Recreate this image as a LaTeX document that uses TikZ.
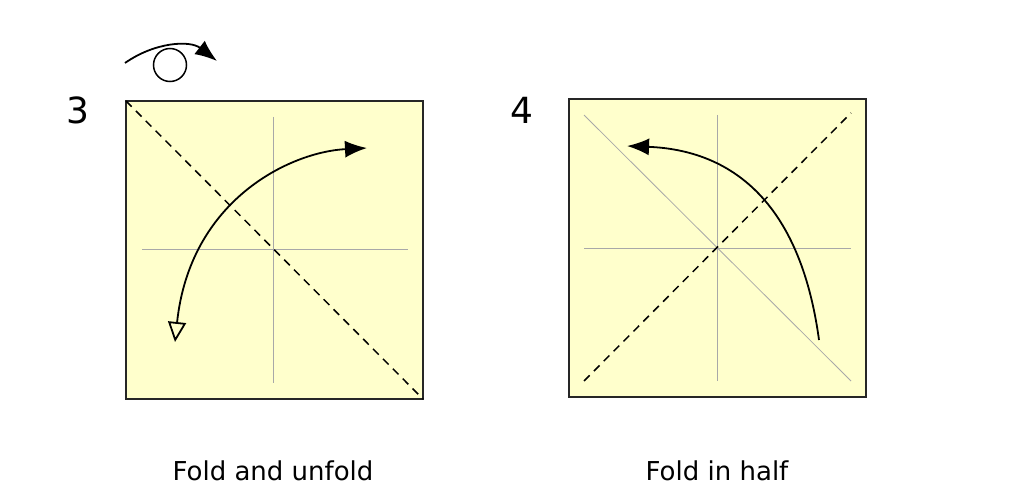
\documentclass[tikz,border=0pt]{standalone}
\usepackage{fontspec}
\setmainfont{DejaVu Sans}
\usetikzlibrary{arrows.meta}
\definecolor{paper}{HTML}{FFFFCC}
\definecolor{crease}{HTML}{A8A8A8}
\tikzset{
  sheet/.style={fill=paper,draw=black!85,line width=1.3pt},
  creaseline/.style={draw=crease,line width=0.8pt},
  valley/.style={dash pattern=on 8pt off 6pt,line width=1.5pt},
  foldarrow/.style={line width=1.8pt},
  lbl/.style={font=\fontsize{26}{28}\selectfont},
  num/.style={font=\fontsize{36}{38}\selectfont}
}
\begin{document}
\begin{tikzpicture}[x=1pt,y=-1pt]
\useasboundingbox (0,0) rectangle (1019,492);
% square 3
\draw[sheet] (126,101) coordinate (a1) rectangle (423,399) coordinate (a2);
\draw[creaseline] (273,117) -- (273,383);
\draw[creaseline] (142,249) -- (408,249);
\draw[valley] (a1) -- (a2);
\draw[foldarrow,{Triangle[open,length=20pt,width=18pt]}-{Latex[length=22pt,width=17pt]}]
  (175,342) .. controls (190,200) and (290,152) .. (367,148);
\node[num] (n3) at (78,110) {3};
% flip symbol
\node[draw,circle,minimum size=33pt,inner sep=0pt,line width=1.5pt] (c) at (170,65) {};
\draw[line width=1.8pt,-{Latex[length=22pt,width=17pt]}] (125,63) .. controls (155,42) and (190,40) .. (217,61);
% square 4
\draw[sheet] (569,99) rectangle (866,397);
\draw[creaseline] (717,115) -- (717,381);
\draw[creaseline] (584,248) -- (851,248);
\draw[creaseline] (584,115) -- (851,381);
\draw[valley] (584,381) -- (851,113);
\draw[foldarrow,-{Latex[length=22pt,width=17pt]}]
  (819,340) .. controls (800,200) and (730,150) .. (627,146);
\node[num] (n4) at (522,110) {4};
\node[lbl] (l3) at (273,471) {Fold and unfold};
\node[lbl] (l4) at (717,471) {Fold in half};
\end{tikzpicture}
\end{document}
